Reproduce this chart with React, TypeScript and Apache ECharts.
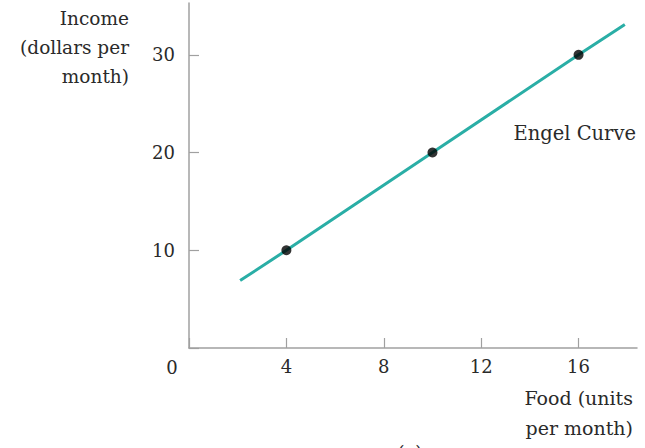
import React, { useEffect, useRef } from "react";
import * as echarts from "echarts";

const engelCurve: [number, number][] = [
  [2.1, 6.9],
  [4, 10],
  [10, 20],
  [16, 30],
  [17.9, 33.1],
];
const markedPoints: [number, number][] = [
  [4, 10],
  [10, 20],
  [16, 30],
];
const xTicks = [0, 4, 8, 12, 16];
const yTicks = [0, 10, 20, 30];

const FONT = "DejaVu Serif";
const TXT = "#2a2a2a";

export default function App() {
  const ref = useRef<HTMLDivElement>(null);
  useEffect(() => {
    if (!ref.current) return;
    const chart = echarts.init(ref.current, null, { renderer: "svg" });
    const axisLine = { show: true, lineStyle: { color: "#a0a0a0", width: 1.5 } };
    const axisTick = { show: true, inside: true, length: 10, lineStyle: { color: "#a0a0a0", width: 1.2 } };
    chart.setOption({
      animation: false,
      grid: { left: 189, right: 8, top: 3, bottom: 100 },
      xAxis: {
        type: "value",
        min: 0,
        max: 18.4,
        interval: 4,
        axisLine,
        axisTick,
        splitLine: { show: false },
        axisLabel: {
          color: TXT,
          fontFamily: FONT,
          fontSize: 18,
          margin: 9,
          showMaxLabel: false,
          formatter: (v: number) => (xTicks.includes(v) && v !== 0 ? String(v) : ""),
        },
      },
      yAxis: {
        type: "value",
        min: 0,
        max: 35.3,
        interval: 10,
        axisLine,
        axisTick,
        splitLine: { show: false },
        axisLabel: {
          color: TXT,
          fontFamily: FONT,
          fontSize: 18,
          margin: 14,
          showMaxLabel: false,
          formatter: (v: number) => (yTicks.includes(v) && v !== 0 ? String(v) : ""),
        },
      },
      series: [
        {
          type: "line",
          data: engelCurve,
          symbol: "none",
          lineStyle: { color: "#2aaea6", width: 3 },
          z: 2,
        },
        {
          type: "scatter",
          data: markedPoints,
          symbol: "circle",
          symbolSize: 10,
          itemStyle: { color: "#000" },
          z: 3,
        },
      ],
      graphic: [
        {
          type: "text",
          x: 129,
          y: 4,
          style: {
            text: "Income\n(dollars per\nmonth)",
            align: "right",
            verticalAlign: "top",
            fontFamily: FONT,
            fontSize: 18.5,
            lineHeight: 29,
            fill: TXT,
          },
        },
        {
          type: "text",
          x: 172,
          y: 367,
          style: {
            text: "0",
            align: "center",
            verticalAlign: "middle",
            fontFamily: FONT,
            fontSize: 18,
            fill: TXT,
          },
        },
        {
          type: "text",
          x: 633,
          y: 383,
          style: {
            text: "Food (units\nper month)",
            align: "right",
            verticalAlign: "top",
            fontFamily: FONT,
            fontSize: 19,
            lineHeight: 30,
            fill: TXT,
          },
        },
        {
          type: "text",
          x: 636,
          y: 133,
          style: {
            text: "Engel Curve",
            align: "right",
            verticalAlign: "middle",
            fontFamily: FONT,
            fontSize: 19.5,
            fill: TXT,
          },
        },
        {
          type: "text",
          x: 410,
          y: 443,
          style: {
            text: "(a)",
            align: "center",
            verticalAlign: "top",
            fontFamily: FONT,
            fontSize: 18,
            fill: TXT,
          },
        },
      ],
    });
    return () => chart.dispose();
  }, []);
  return <div ref={ref} style={{ width: 645, height: 448, position: "absolute", left: 0, top: 0 }} />;
}
